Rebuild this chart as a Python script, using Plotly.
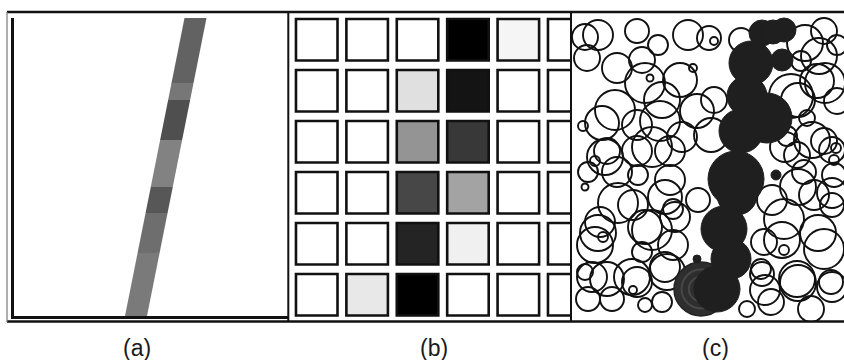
import plotly.graph_objects as go

W, H = 844, 360

# ---------------- panel (a): tilted stripe ----------------
# stripe centre line at the bottom and top edge of the plot area, and its width
stripe_x_bottom = 122.0
stripe_x_top = 181.5
stripe_top = 298.0
stripe_width = 22.0
# grey level of the stripe along its length (segment edges, measured from the bottom)
stripe_edges = [0, 63, 103, 129, 176, 216, 233, 298]
stripe_grey = ["#7a7a7a", "#6e6e6e", "#575757", "#828282", "#4f4f4f", "#777777", "#626262"]

# ---------------- panel (b): 6x6 grid of cells ----------------
# darkness of each cell (0 = white, 1 = black), rows listed top to bottom
cell_shade = [
    [0.00, 0.00, 0.00, 1.00, 0.04, 0.00],
    [0.00, 0.00, 0.12, 0.92, 0.00, 0.00],
    [0.00, 0.00, 0.42, 0.78, 0.00, 0.00],
    [0.00, 0.00, 0.72, 0.36, 0.00, 0.00],
    [0.00, 0.00, 0.86, 0.06, 0.00, 0.00],
    [0.00, 0.09, 1.00, 0.00, 0.00, 0.00],
]

# ---------------- panel (c): circle cover ----------------
# open circles: centre x, centre y (downwards), radius
open_x = [26, 15, 45, 70, 65, 86, 116, 78, 108, 121, 30, 73, 88, 65, 11, 125, 23, 65, 98, 35,
          137, 142, 169, 252, 247, 265, 229, 219, 245, 265, 235, 142, 139, 225, 252, 264, 262, 215,
          16, 13, 45, 66, 98, 61, 28, 80, 101, 23, 31, 13, 35, 70, 65, 95, 101, 40, 16, 61, 73, 90,
          212, 192, 212, 189, 225, 252, 242, 262, 232, 260, 259, 199, 239, 175, 126, 190,
          13, 43, 90, 33, 80, 110, 46, 93, 26, 73, 103, 20, 60, 93,
          233, 253, 226, 240, 213, 260, 226, 260, 200, 210, 246, 226, 193, 260]
open_y = [23, 46, 56, 48, 19, 33, 23, 66, 68, 56, 111, 71, 109, 113, 114, 99, 149, 139, 139, 139,
          26, 29, 28, 19, 44, 33, 49, 84, 69, 89, 106, 88, 123, 143, 129, 136, 148, 124,
          160, 175, 160, 163, 168, 193, 210, 218, 197, 233, 225, 260, 267, 240, 270, 260, 233, 287,
          287, 278, 293, 290,
          207, 230, 238, 257, 267, 237, 183, 163, 160, 193, 270, 290, 297, 297, 188, 262,
          25, 98, 88, 145, 135, 125, 191, 185, 221, 215, 205, 265, 265, 255,
          31, 71, 88, 128, 135, 138, 175, 181, 188, 228, 221, 271, 278, 275]
open_r = [15, 13, 15, 13, 12, 10, 15, 3.5, 17, 4, 17, 20, 20, 15, 5, 17, 5, 15, 15, 13,
          12, 4, 12, 13, 18, 10, 10, 22, 17, 13, 8, 13, 17, 13, 13, 5, 5, 10,
          10, 3.5, 15, 10, 15, 15, 15, 20, 10, 18, 5, 8, 17, 10, 15, 18, 15, 12, 12, 4, 7, 10,
          20, 13, 5, 10, 18, 20, 15, 12, 12, 12, 12, 13, 13, 8, 12, 12,
          13, 20, 18, 18, 20, 15, 20, 17, 18, 17, 15, 15, 18, 15,
          18, 20, 17, 18, 15, 13, 18, 15, 15, 18, 18, 18, 15, 15]

# filled circles forming the dark band: centre x, centre y, radius
dark_x = [190, 212, 201, 179, 210, 175, 195, 169, 164, 165, 152, 159, 145, 204, 125]
dark_y = [21, 18, 20, 51, 48, 84, 106, 119, 167, 183, 217, 247, 277, 163, 247]
dark_r = [13, 12, 12, 22, 11, 20, 25, 22, 28, 20, 23, 20, 23, 5, 4]
# larger patterned blob at the foot of the band
foot_x, foot_y, foot_r = [129], [277], [27]

labels = ["(a)", "(b)", "(c)"]


def px(x):
    return x / W


def py(y):
    return 1 - y / H


fig = go.Figure()
shapes = []

# panel (a) stripe segments
for i, grey in enumerate(stripe_grey):
    y0, y1 = stripe_edges[i], stripe_edges[i + 1]
    c0 = stripe_x_bottom + (stripe_x_top - stripe_x_bottom) * y0 / stripe_top
    c1 = stripe_x_bottom + (stripe_x_top - stripe_x_bottom) * y1 / stripe_top
    hw = stripe_width / 2
    path = (f"M {c0 - hw},{y0} L {c0 + hw},{y0} L {c1 + hw},{y1} "
            f"L {c1 - hw},{y1} Z")
    shapes.append(dict(type="path", path=path, xref="x", yref="y",
                       fillcolor=grey, line=dict(width=0), layer="above"))

# panel (b) cells
hx, hy = 0.412, 0.407
for r, row in enumerate(cell_shade):
    for c, v in enumerate(row):
        g = int(round(255 * (1 - v)))
        shapes.append(dict(type="rect", xref="x2", yref="y2",
                           x0=c - hx, x1=c + hx, y0=r - hy, y1=r + hy,
                           fillcolor=f"rgb({g},{g},{g})",
                           line=dict(color="#111111", width=2.6), layer="above"))

# panel (c) circles
for x, y, r in zip(open_x, open_y, open_r):
    shapes.append(dict(type="circle", xref="x3", yref="y3",
                       x0=x - r, x1=x + r, y0=y - r, y1=y + r,
                       line=dict(color="#111111", width=1.9), layer="above"))
for x, y, r in zip(foot_x, foot_y, foot_r):
    shapes.append(dict(type="circle", xref="x3", yref="y3",
                       x0=x - r, x1=x + r, y0=y - r, y1=y + r,
                       fillcolor="#2e2e2e", line=dict(color="#222222", width=1.5),
                       layer="above"))
    for k in (0.72, 0.45, 0.2):
        shapes.append(dict(type="circle", xref="x3", yref="y3",
                           x0=x - r * k, x1=x + r * k, y0=y - r * k, y1=y + r * k,
                           line=dict(color="#474747", width=2), layer="above"))
for x, y, r in zip(dark_x, dark_y, dark_r):
    shapes.append(dict(type="circle", xref="x3", yref="y3",
                       x0=x - r, x1=x + r, y0=y - r, y1=y + r,
                       fillcolor="#1f1f1f", line=dict(color="#1f1f1f", width=1),
                       layer="above"))

# frame around the three panels
frame = dict(color="#111111", width=2.5)
shapes += [
    dict(type="line", xref="paper", yref="paper", x0=px(7), x1=1, y0=py(12), y1=py(12), line=frame),
    dict(type="line", xref="paper", yref="paper", x0=px(7), x1=1, y0=py(321.5), y1=py(321.5), line=frame),
    dict(type="line", xref="paper", yref="paper", x0=px(7), x1=px(7), y0=py(12), y1=py(322),
         line=dict(color="#777777", width=1.2)),
    dict(type="line", xref="paper", yref="paper", x0=px(288.3), x1=px(288.3), y0=py(12), y1=py(322),
         line=dict(color="#111111", width=2)),
    dict(type="line", xref="paper", yref="paper", x0=px(571), x1=px(571), y0=py(12), y1=py(322),
         line=dict(color="#111111", width=2)),
]

# invisible anchor traces so that every subplot is created
for xa, ya in (("x", "y"), ("x2", "y2"), ("x3", "y3")):
    fig.add_trace(go.Scatter(x=[None], y=[None], xaxis=xa, yaxis=ya,
                             showlegend=False, hoverinfo="skip"))

hidden = dict(showgrid=False, zeroline=False, showticklabels=False, ticks="", fixedrange=True)

fig.update_layout(
    width=W, height=H,
    margin=dict(l=0, r=0, t=0, b=0),
    paper_bgcolor="white", plot_bgcolor="white",
    showlegend=False,
    xaxis=dict(domain=[px(14), px(288)], range=[0, 274], showline=True,
               linecolor="#111111", linewidth=2.6, **hidden),
    yaxis=dict(domain=[py(316), py(18)], range=[0, 298], showline=True,
               linecolor="#111111", linewidth=2.6, **hidden),
    xaxis2=dict(domain=[px(289), px(571)], range=[-0.5506, 5.045], showline=False, **hidden),
    yaxis2=dict(domain=[py(321), py(12)], range=[5.515, -0.544], showline=False, **hidden),
    xaxis3=dict(domain=[px(572), 1], range=[0, 272], showline=False, **hidden),
    yaxis3=dict(domain=[py(321), py(12)], range=[309, 0], showline=False, **hidden),
    shapes=shapes,
    annotations=[
        dict(text=t, x=px(cx), y=py(348), xref="paper", yref="paper",
             showarrow=False, xanchor="center", yanchor="middle",
             font=dict(family="Liberation Sans, Arial, sans-serif", size=23, color="#1a1a1a"))
        for t, cx in zip(labels, (137, 434, 715))
    ],
)

fig.write_html("out.html")
